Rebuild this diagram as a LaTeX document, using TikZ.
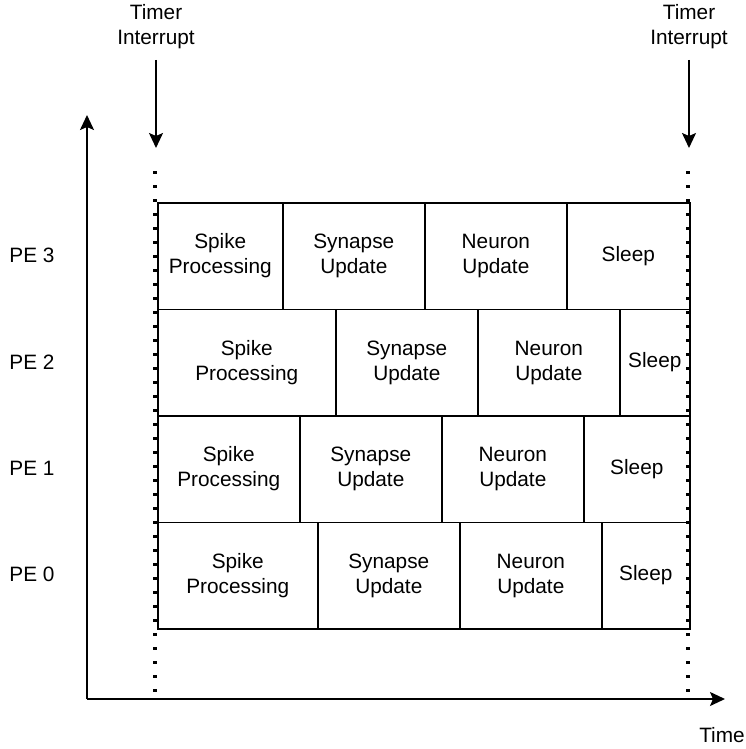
\documentclass[tikz,border=0pt]{standalone}
\usepackage{fontspec}
\setmainfont{Liberation Sans}
\usetikzlibrary{arrows.meta}

\begin{document}
\begin{tikzpicture}[x=1pt,y=-1pt,
  txt/.style={font=\fontsize{20.8}{25}\selectfont, align=center, inner sep=0pt},
  task/.style={txt, draw, line width=1.6pt, minimum height=106.5pt,
               anchor=north west, inner sep=0pt},
  axis/.style={line width=1.7pt, -{Stealth[length=15pt,width=14pt,inset=3pt]}},
  tick/.style={line width=3.2pt, dash pattern=on 3.2pt off 10.8pt}]
\useasboundingbox (0,0) rectangle (746,749);

% axes
\coordinate (o) at (87,699);
\coordinate (ytop) at (87,115);
\coordinate (xend) at (725,699);
\draw[axis] (o) -- (ytop);
\draw[axis] (o) -- (xend);
\node[txt] (time) at (722,735) {Time};

% interrupt markers
\node[txt] (irqA) at (156,27) {Timer\\Interrupt};
\node[txt] (irqB) at (689,27) {Timer\\Interrupt};
\coordinate (irqAtip) at (156,148);
\coordinate (irqBtip) at (689,148);
\draw[axis] (156,60) -- (irqAtip);
\draw[axis] (689,60) -- (irqBtip);
\coordinate (dA0) at (155,171);
\coordinate (dA1) at (155,699);
\coordinate (dB0) at (688,171);
\coordinate (dB1) at (688,699);
\draw[tick] (dA0) -- (dA1);
\draw[tick] (dB0) -- (dB1);

% per-PE schedule rows: boundaries of the four phases
\foreach \r/\a/\b/\c in {3/282/424/566, 2/335/477/619, 1/299/441/583, 0/317/459/601} {
  \pgfmathsetmacro\rowy{202+(3-\r)*106.5}
  \pgfmathsetmacro\wspk{\a-157}
  \pgfmathsetmacro\wsyn{\b-\a}
  \pgfmathsetmacro\wneu{\c-\b}
  \pgfmathsetmacro\wslp{689-\c}
  \pgfmathsetmacro\rowmid{\rowy+53.25}
  \node[task, minimum width=\wspk pt] (sp\r) at (157,\rowy) {Spike\\Processing};
  \node[task, minimum width=\wsyn pt] (su\r) at (\a,\rowy) {Synapse\\Update};
  \node[task, minimum width=\wneu pt] (nu\r) at (\b,\rowy) {Neuron\\Update};
  \node[task, minimum width=\wslp pt] (sl\r) at (\c,\rowy) {Sleep};
  \node[txt] (pe\r) at (32,\rowmid) {PE \r};
}
\end{tikzpicture}
\end{document}
